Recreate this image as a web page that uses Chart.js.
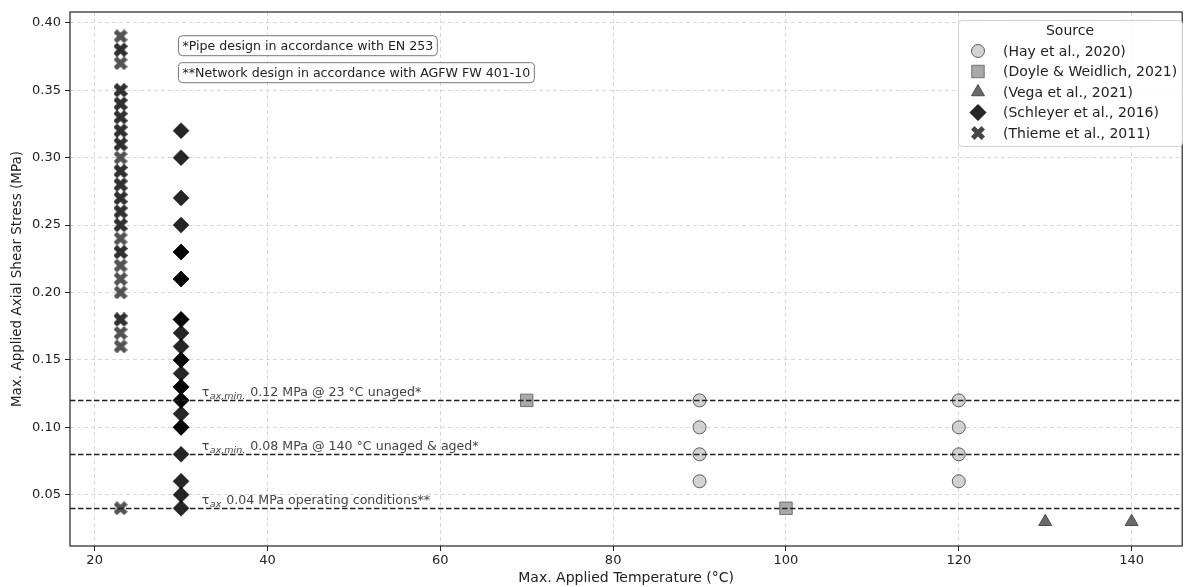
<!DOCTYPE html>
<html>
<head>
<meta charset="utf-8">
<script src="https://cdn.jsdelivr.net/npm/chart.js@4.4.1/dist/chart.umd.min.js"></script>
<style>
html, body { margin: 0; padding: 0; background: #fff; overflow: hidden; }
#wrap { position: relative; width: 1192px; height: 587px; }
</style>
</head>
<body>
<div id="wrap"><canvas id="shearChart"></canvas></div>
<script>
// data
const sourceNames = ['(Hay et al., 2020)', '(Doyle & Weidlich, 2021)', '(Vega et al., 2021)', '(Schleyer et al., 2016)', '(Thieme et al., 2011)'];
const hayTemp = [90, 90, 90, 90, 120, 120, 120, 120];
const hayStress = [0.12, 0.10, 0.08, 0.06, 0.12, 0.10, 0.08, 0.06];
const doyleTemp = [70, 100];
const doyleStress = [0.12, 0.04];
const vegaTemp = [130, 140];
const vegaStress = [0.03, 0.03];
const schleyerTemp = 30;
// repeated values show up darker in the picture (overlapping markers)
const schleyerStress = [0.32, 0.30, 0.27, 0.25, 0.23, 0.23, 0.21, 0.21, 0.18, 0.18, 0.17, 0.16, 0.15, 0.15, 0.14,
    0.13, 0.13, 0.12, 0.12, 0.11, 0.10, 0.10, 0.08, 0.06, 0.05, 0.04];
const thiemeTemp = 23;
const thiemeStress = [0.39, 0.38, 0.38, 0.37, 0.35, 0.35, 0.34, 0.34, 0.33, 0.33, 0.32, 0.32, 0.31, 0.31, 0.30,
    0.29, 0.29, 0.28, 0.28, 0.27, 0.27, 0.26, 0.26, 0.25, 0.25, 0.24, 0.23, 0.23, 0.22, 0.21, 0.20,
    0.18, 0.18, 0.17, 0.16, 0.04];

const xTicks = [20, 40, 60, 80, 100, 120, 140];
const yTicks = [0.05, 0.10, 0.15, 0.20, 0.25, 0.30, 0.35, 0.40];

const refLines = [0.12, 0.08, 0.04];
const refSubs = ['ax,min.', 'ax,min.', 'ax'];
const refTexts = [' 0.12 MPa @ 23 °C unaged*', ' 0.08 MPa @ 140 °C unaged & aged*', ' 0.04 MPa operating conditions**'];
const notes = ['*Pipe design in accordance with EN 253', '**Network design in accordance with AGFW FW 401-10'];

const FONT = '"DejaVu Sans", sans-serif';

function makeX(size, color) {
    const c = document.createElement('canvas');
    c.width = c.height = size;
    const g = c.getContext('2d');
    const L = size * 0.53, w = size * 0.175;
    g.translate(size / 2, size / 2);
    g.rotate(Math.PI / 4);
    g.beginPath();
    g.rect(-L, -w, 2 * L, 2 * w);
    g.rect(-w, -L, 2 * w, 2 * L);
    g.fillStyle = color;
    g.fill();
    return c;
}
const xMarker = makeX(14, 'rgba(40,40,40,0.8)');
const xMarkerLegend = makeX(14, 'rgb(70,70,70)');

const styles = [
    { pointStyle: 'circle', radius: 6.5, bg: 'rgba(195,195,195,0.75)', border: 'rgba(60,60,60,0.8)' },
    { pointStyle: 'rect', radius: 8.8, bg: 'rgba(140,140,140,0.75)', border: 'rgba(90,90,90,0.8)' },
    { pointStyle: 'triangle', radius: 7.5, bg: 'rgba(80,80,80,0.85)', border: 'rgba(60,60,60,0.85)' },
    { pointStyle: 'rectRot', radius: 8, bg: 'rgba(0,0,0,0.85)', border: 'rgba(0,0,0,0.85)' },
    { pointStyle: xMarker, radius: 7, bg: 'rgba(40,40,40,0.8)', border: 'rgba(40,40,40,0.8)' }
];

function pts(xs, ys) {
    return ys.map((y, i) => ({ x: Array.isArray(xs) ? xs[i] : xs, y: y }));
}
const seriesData = [
    pts(hayTemp, hayStress),
    pts(doyleTemp, doyleStress),
    pts(vegaTemp, vegaStress),
    pts(schleyerTemp, schleyerStress),
    pts(thiemeTemp, thiemeStress)
];

const decorPlugin = {
    id: 'decor',
    afterDatasetsDraw(chart) {
        const ctx = chart.ctx;
        const xs = chart.scales.x, ys = chart.scales.y;
        const area = chart.chartArea;
        ctx.save();
        // reference lines
        ctx.strokeStyle = '#222';
        ctx.lineWidth = 1.5;
        ctx.setLineDash([5.5, 2.5]);
        refLines.forEach(v => {
            const py = Math.round(ys.getPixelForValue(v)) + 0.5;
            ctx.beginPath();
            ctx.moveTo(area.left, py);
            ctx.lineTo(area.right, py);
            ctx.stroke();
        });
        ctx.setLineDash([]);
        // labels on the lines
        ctx.fillStyle = '#444';
        ctx.textBaseline = 'alphabetic';
        refLines.forEach((v, i) => {
            let px = xs.getPixelForValue(32.4);
            const py = ys.getPixelForValue(v) - 4;
            ctx.font = '12.6px ' + FONT;
            ctx.fillText('τ', px, py);
            px += ctx.measureText('τ').width + 0.5;
            ctx.font = 'italic 9.5px ' + FONT;
            ctx.fillText(refSubs[i], px, py + 3);
            px += ctx.measureText(refSubs[i]).width + 1;
            ctx.font = '12.6px ' + FONT;
            ctx.fillText(refTexts[i], px, py);
        });
        // spines
        ctx.strokeStyle = '#222';
        ctx.lineWidth = 1.2;
        ctx.strokeRect(area.left, area.top, area.right - area.left, area.bottom - area.top);
        // note boxes
        ctx.font = '12.6px ' + FONT;
        ctx.textBaseline = 'middle';
        notes.forEach((t, i) => {
            const bx = xs.getPixelForValue(29.7);
            const by = ys.getPixelForValue(0.383 - i * 0.02);
            const w = ctx.measureText(t).width + 8;
            const h = 20;
            ctx.beginPath();
            ctx.roundRect(bx, by - h / 2, w, h, 4);
            ctx.fillStyle = '#fff';
            ctx.fill();
            ctx.strokeStyle = '#777';
            ctx.lineWidth = 1;
            ctx.stroke();
            ctx.fillStyle = '#222';
            ctx.fillText(t, bx + 4, by + 1);
        });
        // legend
        const lx = 958, ly = 20, lw = 224, lh = 126;
        ctx.beginPath();
        ctx.roundRect(lx + 0.5, ly + 0.5, lw, lh, 4);
        ctx.fillStyle = 'rgba(255,255,255,0.85)';
        ctx.fill();
        ctx.strokeStyle = '#d0d0d0';
        ctx.lineWidth = 1;
        ctx.stroke();
        ctx.font = '14px ' + FONT;
        ctx.fillStyle = '#222';
        ctx.textAlign = 'center';
        ctx.fillText('Source', lx + 112, ly + 11);
        ctx.textAlign = 'left';
        sourceNames.forEach((name, i) => {
            const cy = ly + 31 + i * 20.5;
            const cx = lx + 20;
            const s = styles[i];
            if (i === 4) {
                ctx.drawImage(xMarkerLegend, cx - 7, cy - 7, 14, 14);
            } else {
                ctx.fillStyle = s.bg;
                ctx.strokeStyle = s.border;
                ctx.lineWidth = 1;
                Chart.helpers.drawPoint(ctx, { pointStyle: s.pointStyle, radius: s.radius, rotation: 0, borderWidth: 1 }, cx, cy);
            }
            ctx.fillStyle = '#222';
            ctx.fillText(name, lx + 45, cy + 1);
        });
        ctx.restore();
    }
};

new Chart(document.getElementById('shearChart'), {
    type: 'scatter',
    data: {
        datasets: seriesData.map((d, i) => ({
            label: sourceNames[i],
            data: d,
            pointStyle: styles[i].pointStyle,
            pointRadius: styles[i].radius,
            pointHoverRadius: styles[i].radius,
            backgroundColor: styles[i].bg,
            borderColor: styles[i].border,
            borderWidth: i === 3 ? 0.5 : 1
        }))
    },
    options: {
        responsive: true,
        maintainAspectRatio: false,
        animation: false,
        events: [],
        layout: { padding: { top: 12, right: 4, left: 0, bottom: 0 } },
        plugins: {
            legend: { display: false },
            tooltip: { enabled: false }
        },
        scales: {
            x: {
                type: 'linear',
                min: 17.15,
                max: 145.85,
                afterBuildTicks: axis => { axis.ticks = xTicks.map(v => ({ value: v })); },
                afterFit: axis => { axis.height = 41; },
                grid: { color: '#d9d9d9', tickColor: '#222', tickLength: 5, drawTicks: true },
                border: { display: false, dash: [4, 3] },
                ticks: { color: '#222', font: { family: FONT, size: 13 }, padding: 2, maxRotation: 0 },
                title: { display: true, text: 'Max. Applied Temperature (°C)', color: '#222', font: { family: FONT, size: 14 }, padding: { top: 0, bottom: 0 } }
            },
            y: {
                type: 'linear',
                min: 0.012,
                max: 0.408,
                afterBuildTicks: axis => { axis.ticks = yTicks.map(v => ({ value: v })); },
                afterFit: axis => { axis.width = 70; },
                grid: { color: '#d9d9d9', tickColor: '#222', tickLength: 5, drawTicks: true },
                border: { display: false, dash: [4, 3] },
                ticks: { color: '#222', font: { family: FONT, size: 13 }, padding: 4, callback: v => v.toFixed(2) },
                title: { display: true, text: 'Max. Applied Axial Shear Stress (MPa)', color: '#222', font: { family: FONT, size: 13.5 }, padding: { top: 9, bottom: 0 } }
            }
        }
    },
    plugins: [decorPlugin]
});
</script>
</body>
</html>
